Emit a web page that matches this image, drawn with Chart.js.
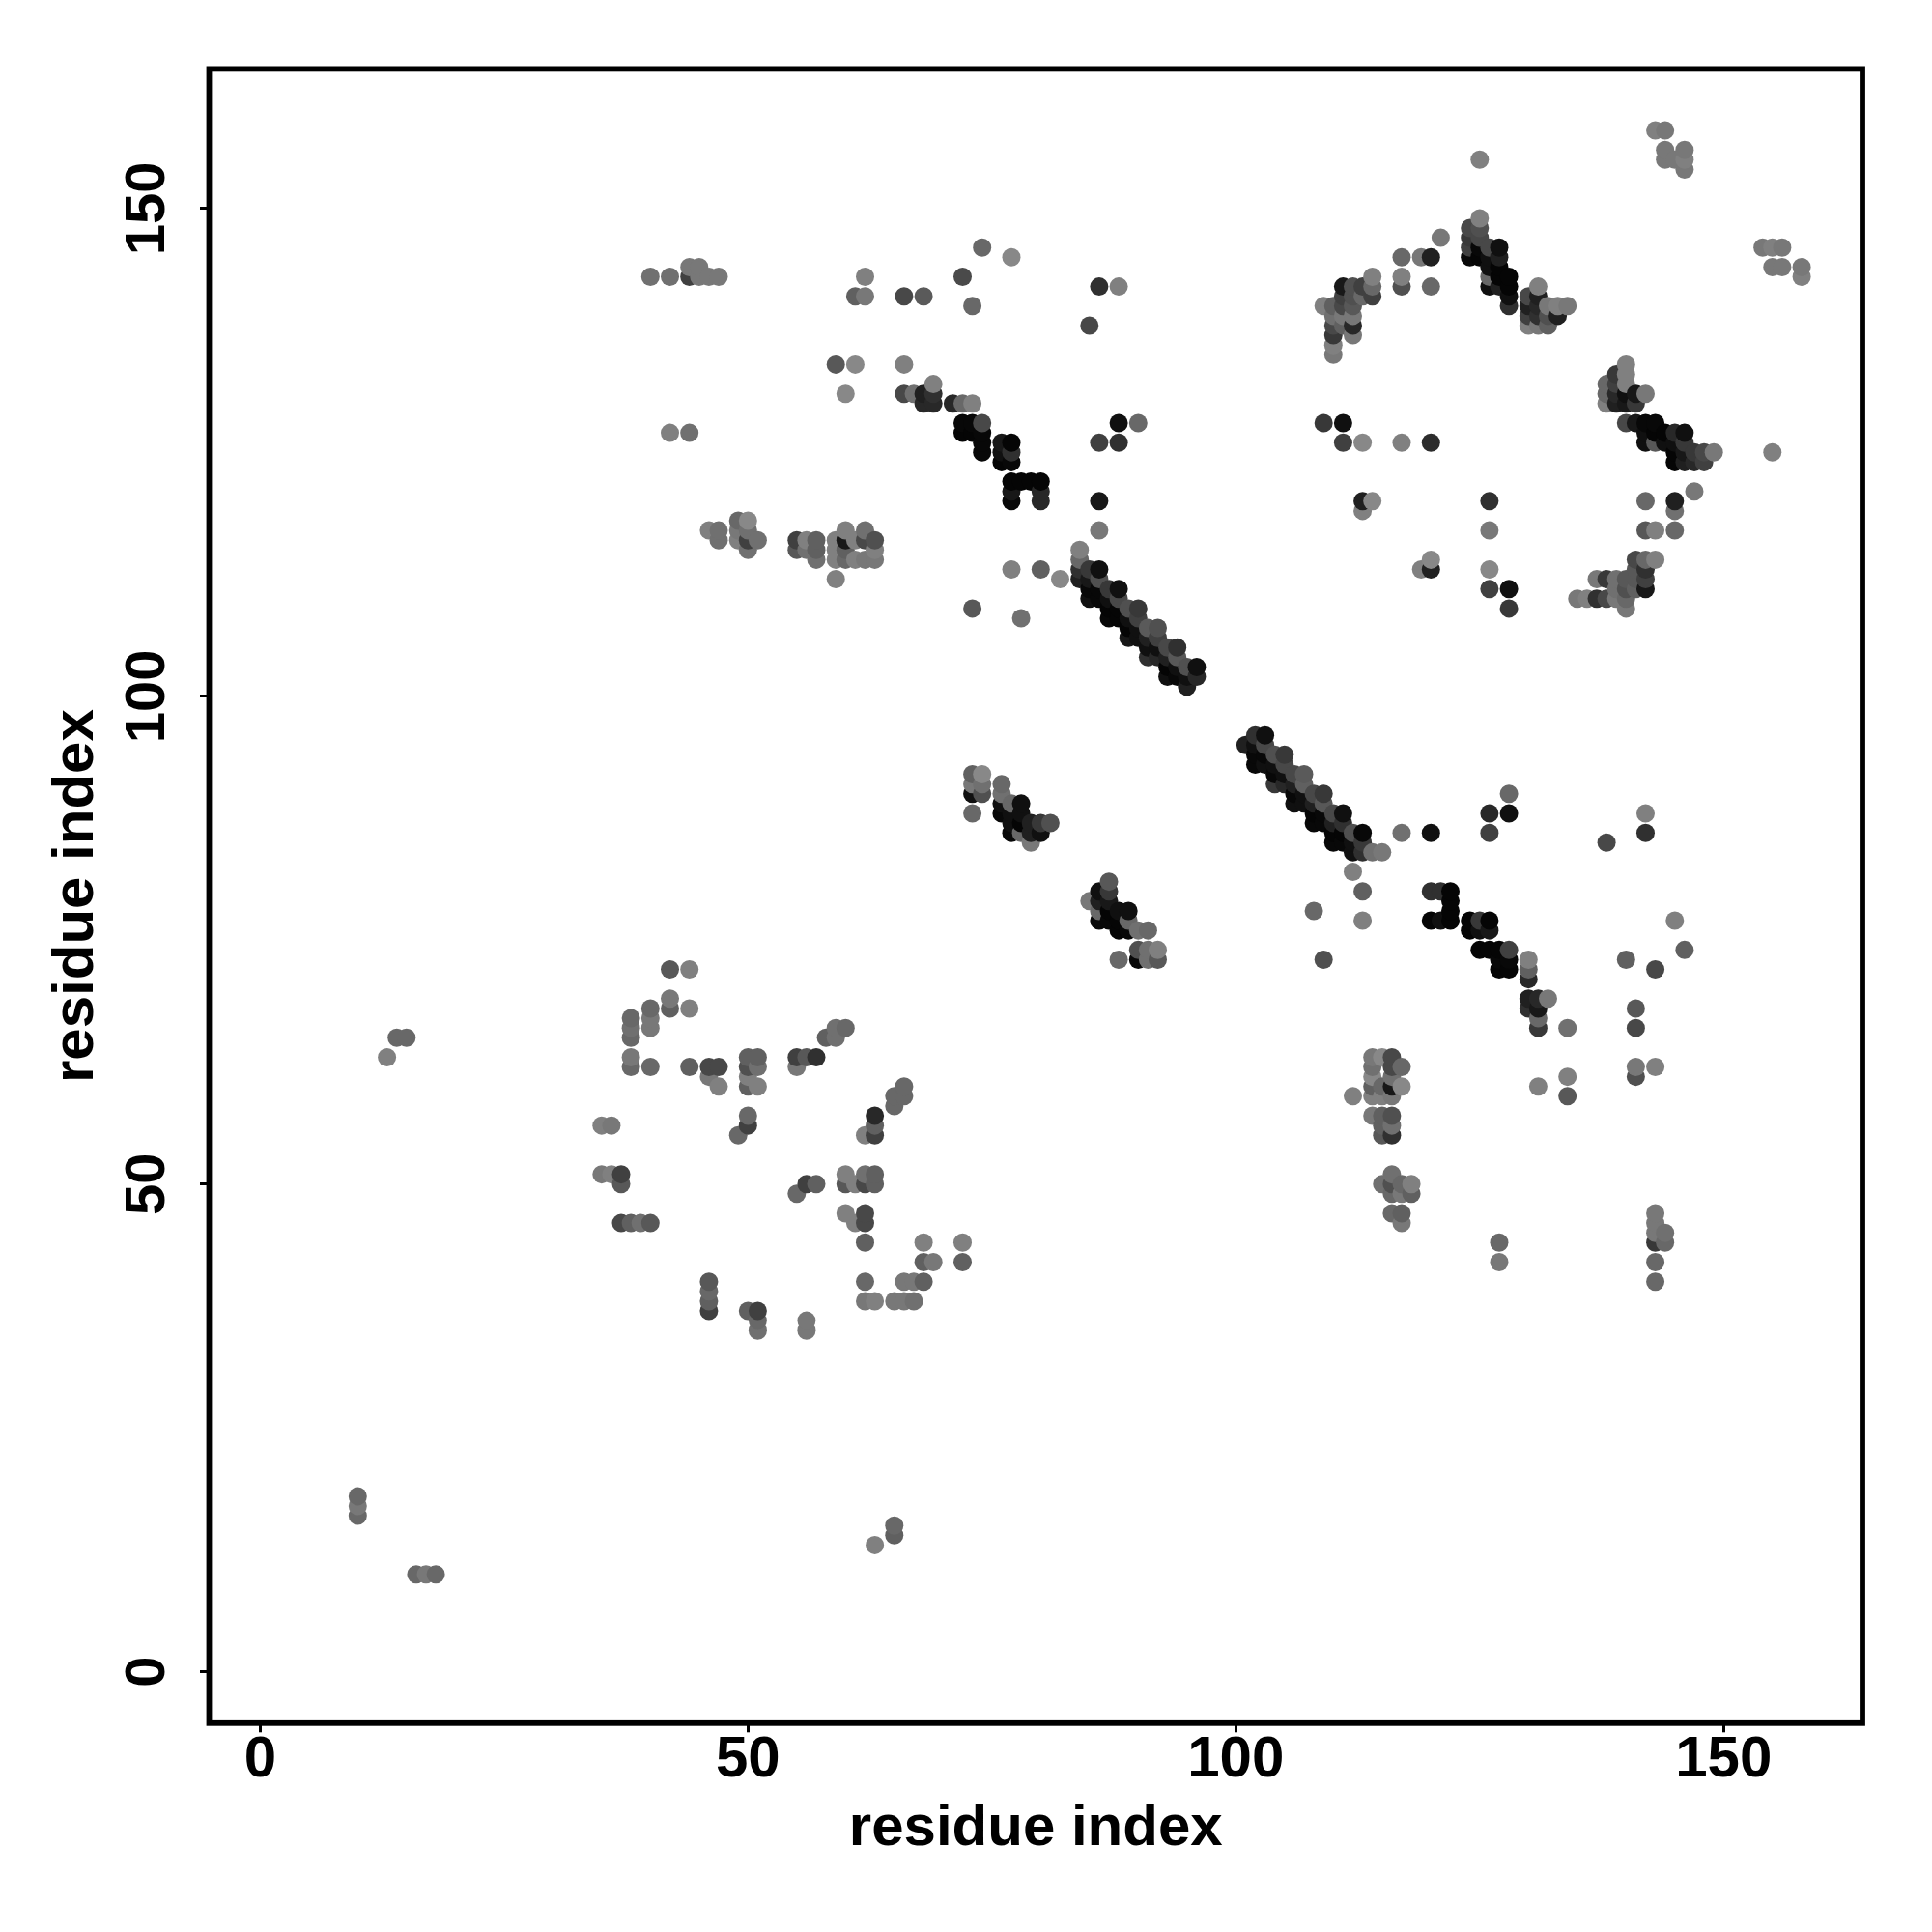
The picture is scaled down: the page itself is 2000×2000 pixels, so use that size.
<!DOCTYPE html>
<html><head><meta charset="utf-8">
<style>html,body{margin:0;padding:0;background:#fff}canvas{display:block}</style>
<script src="https://cdn.jsdelivr.net/npm/chart.js@4/dist/chart.umd.min.js"></script>
</head><body><canvas id="c" width="2000" height="2000"></canvas>
<script>
// Each entry: [residue i, residue j, grey level of the contact]
const tickValues = [0, 50, 100, 150];
const axisTitle = "residue index";
const farLeftLow = [[10,18,104],[10,17,120],[10,16,104],[16,10,104],[17,10,120],[18,10,104],[63,13,128],[65,15,104],[65,14,96]];
const farLeftMid = [[13,63,128],[14,65,104],[15,65,104]];
const upperLeft = [[40,143,112],[42,143,112],[44,143,64],[44,144,120],[45,144,120],[45,143,120],[46,143,120],[47,143,120],[42,127,128],[44,127,112]];
const upperMid = [[62,143,128],[61,141,96],[62,141,120],[66,141,72],[68,141,90],[72,143,74],[74,146,104],[77,145,136],[73,140,104],[85,138,72],[86,142,48],[88,142,128],[59,134,88],[61,134,136],[66,134,128],[60,131,136],[73,109,88],[78,108,112]];
const strandA = [[66,131,72],[67,131,112],[68,131,32],[68,130,40],[69,130,40],[69,131,48],[69,132,128],[71,130,40],[72,130,104],[73,130,128],[72,128,8],[73,128,8],[74,128,72],[72,127,5],[73,127,5],[74,127,8],[74,126,8],[74,125,8],[76,126,24],[77,126,5],[76,125,16],[77,125,48],[76,124,5],[77,124,8],[77,122,5],[78,122,5],[79,122,5],[80,122,5],[77,121,24],[77,120,8],[80,121,40],[80,120,40]];
const blockA = [[46,117,128],[47,117,112],[47,116,112],[49,118,104],[50,118,136],[49,117,120],[50,117,112],[49,116,128],[50,116,64],[51,116,112],[50,115,112]];
const blockB = [[55,116,64],[55,115,88],[56,116,128],[56,115,112],[57,116,96],[57,115,96],[57,114,112],[59,116,128],[59,115,128],[59,114,128],[59,112,128],[60,117,128],[60,116,24],[60,115,96],[60,114,104],[61,116,128],[61,114,128],[62,117,112],[62,116,72],[62,114,120],[63,116,80],[63,115,128],[63,114,120],[77,113,128],[80,113,96],[82,112,136],[86,120,24],[86,117,120],[88,128,16],[90,128,104],[86,126,64],[88,126,48]];
const helixUpper = [[84,115,128],[84,114,104],[84,113,48],[84,112,32],[85,113,56],[85,112,24],[85,111,8],[85,110,16],[86,113,16],[86,112,80],[86,111,8],[86,110,8],[87,111,56],[87,110,16],[87,109,5],[87,108,8],[88,111,16],[88,110,72],[88,109,5],[88,108,5],[89,109,80],[89,108,16],[89,107,5],[89,106,24],[90,109,56],[90,108,64],[90,107,16],[90,106,16],[91,107,90],[91,106,32],[91,105,16],[91,104,48],[92,107,80],[92,106,64],[92,105,16],[92,104,40],[93,105,72],[93,104,32],[93,103,5],[93,102,16],[94,105,48],[94,104,88],[94,103,16],[94,102,8],[95,103,80],[95,102,16],[95,101,32],[96,103,16],[96,102,40]];
const helixLower = [[101,95,32],[102,96,48],[102,95,16],[102,94,8],[102,93,8],[103,96,16],[103,95,72],[103,94,8],[103,93,16],[104,94,80],[104,93,16],[104,92,8],[104,91,56],[105,94,56],[105,93,72],[105,92,16],[105,91,40],[106,92,72],[106,91,32],[106,90,8],[106,89,16],[107,92,90],[107,91,96],[107,90,16],[107,89,16],[108,90,72],[108,89,32],[108,88,5],[108,87,8],[109,90,56],[109,89,88],[109,88,8],[109,87,8],[110,88,72],[110,87,32],[110,86,5],[110,85,8],[111,88,16],[111,87,48],[111,86,5],[111,85,8],[112,86,80],[112,85,16],[112,84,16],[113,86,8],[113,85,56],[113,84,48],[114,84,112],[115,84,120]];
const scatterRight = [[128,90,104],[126,88,40],[128,88,16],[126,86,64],[117,86,112],[120,86,16],[142,88,128],[142,86,48],[138,85,72],[112,82,128],[113,80,96],[113,77,128],[108,78,104],[109,73,80],[134,66,112],[140,73,96],[143,72,72],[145,77,128],[146,74,96],[141,68,88],[141,66,72],[141,62,120],[143,62,128],[141,61,80],[134,61,128],[134,59,88],[131,60,128]];
const strandB = [[120,80,48],[121,80,48],[122,80,5],[122,79,5],[122,78,5],[122,77,5],[120,77,5],[121,77,16],[124,77,5],[125,77,56],[126,77,5],[124,76,5],[125,76,16],[126,76,24],[125,74,5],[126,74,5],[127,74,5],[128,74,64],[127,73,8],[128,73,8],[127,72,5],[128,72,5],[130,73,128],[130,72,96],[130,71,40],[130,69,32],[131,69,40],[132,69,120],[130,68,48],[131,68,24],[131,67,104],[131,66,56]];
const columnA = [[114,63,120],[115,63,136],[116,63,72],[114,62,112],[116,62,72],[117,62,104],[114,61,136],[116,61,112],[114,60,96],[115,60,104],[116,60,24],[117,60,136],[114,59,128],[115,59,128],[116,59,120],[112,59,128],[114,57,120],[115,57,96],[116,57,80],[115,56,96],[116,56,112],[115,55,88],[116,55,48]];
const columnB = [[116,51,112],[115,50,112],[116,50,80],[117,50,104],[118,50,128],[116,49,104],[117,49,120],[118,49,96],[116,47,104],[117,47,96],[117,46,120],[127,44,104],[127,42,120],[143,47,120],[143,46,120],[143,45,120],[144,45,112],[143,44,56],[144,44,104],[143,42,104],[143,40,104]];
const ringUpper = [[42,72,88],[44,72,128],[42,69,120],[42,68,96],[44,68,128],[40,68,104],[40,67,120],[40,66,120],[38,67,104],[38,66,112],[38,65,104],[38,63,120],[38,62,104],[40,62,104],[44,62,96],[46,62,72],[47,62,72],[46,61,120],[47,60,128],[50,63,96],[51,63,96],[50,62,80],[51,62,112],[50,61,128],[50,60,96],[51,60,128],[55,63,64],[56,63,88],[57,63,48],[55,62,120],[58,65,96],[59,65,112],[59,66,112],[60,66,104],[66,60,104],[65,59,104],[66,59,104],[65,58,104],[50,57,104],[50,56,64],[49,55,104],[63,57,40],[63,56,96],[63,55,64],[62,55,128],[35,56,128],[36,56,120]];
const ringLower = [[35,51,120],[36,51,128],[37,51,64],[37,50,88],[37,46,72],[38,46,96],[39,46,112],[40,46,88],[60,51,128],[60,50,88],[61,50,128],[62,51,112],[62,50,72],[63,51,96],[63,50,96],[56,50,64],[57,50,96],[55,49,104],[60,47,128],[61,46,128],[62,47,72],[62,46,72],[62,44,96],[68,44,128],[72,44,128],[68,42,96],[69,42,120],[72,42,96],[62,40,104],[66,40,120],[67,40,120],[68,40,96],[62,38,120],[63,38,128],[65,38,120],[66,38,120],[67,38,112],[46,40,88],[46,39,104],[46,38,96],[46,37,64],[50,37,96],[51,37,64],[51,36,104],[51,35,112],[56,36,120],[56,35,120]];
const topRightA = [[125,155,128],[143,158,128],[144,158,120],[144,156,120],[144,155,120],[145,155,120],[146,156,120],[146,155,128],[146,154,120],[154,146,120],[155,146,128],[156,146,120],[155,144,120],[156,144,120],[158,144,120],[158,143,128],[155,125,128]];
const strandC = [[125,149,128],[124,148,72],[125,148,80],[124,147,56],[125,147,72],[124,146,64],[125,146,8],[126,146,72],[127,146,16],[124,145,8],[125,145,5],[126,145,16],[127,145,32],[126,144,16],[127,144,5],[128,143,5],[126,143,104],[127,143,5],[128,142,5],[126,142,16],[127,142,32],[128,141,16],[128,140,48]];
const strandD = [[131,142,128],[130,141,72],[131,141,32],[130,140,32],[131,140,40],[132,140,120],[133,140,128],[134,140,120],[130,139,64],[131,139,48],[132,139,80],[133,139,32],[130,138,128],[131,138,120],[132,138,96],[121,147,120],[117,145,104],[119,145,120],[120,145,32],[117,143,128],[117,142,80],[120,142,104]];
const clusterLeft = [[114,143,128],[114,142,104],[114,141,64],[111,142,24],[112,142,80],[113,142,64],[111,141,64],[112,141,80],[113,141,104],[109,140,128],[110,140,96],[111,140,72],[112,140,88],[110,139,112],[111,139,120],[112,139,120],[110,138,72],[111,138,96],[112,138,40],[110,137,56],[112,137,120],[110,136,128],[110,135,120]];
const clusterRight = [[140,134,128],[140,133,128],[139,133,56],[140,132,128],[138,132,104],[139,132,64],[138,131,104],[139,131,40],[140,131,16],[141,131,24],[142,131,120],[138,130,128],[139,130,32],[140,130,24],[141,130,56],[140,128,72],[141,128,24],[142,128,8],[143,128,8],[142,127,16],[143,127,5],[144,127,5],[145,127,40],[146,127,16],[142,126,16],[143,126,88],[144,126,16],[145,126,16],[146,126,56],[145,125,5],[146,125,24],[147,125,56],[148,125,72],[149,125,120],[145,124,5],[146,124,32],[147,124,40],[148,124,64]];
const midRight = [[109,128,56],[111,128,16],[111,126,64],[113,126,136],[117,126,128],[120,126,44],[113,120,32],[114,120,136],[113,119,128],[120,113,32],[119,113,128],[120,114,136],[126,120,48],[126,117,120],[126,113,136],[126,111,64],[128,111,16],[128,109,56],[142,120,104],[145,120,32],[145,119,112],[147,121,120],[142,117,88],[143,117,128],[145,117,104]];
const sheetRight = [[141,114,72],[142,114,104],[143,114,128],[141,113,88],[142,113,48],[137,112,120],[138,112,56],[139,112,112],[140,112,88],[141,112,88],[142,112,64],[139,111,112],[140,111,80],[141,111,96],[142,111,24],[135,110,120],[136,110,128],[137,110,48],[138,110,72],[139,110,120],[140,110,104],[140,109,120]];
const strandE = [[73,92,96],[74,92,136],[73,91,120],[74,91,112],[73,90,16],[74,90,80],[73,88,104],[76,91,104],[76,90,112],[77,89,104],[76,89,16],[78,89,16],[76,88,8],[77,88,16],[78,88,16],[77,87,16],[78,87,5],[79,87,32],[80,87,56],[81,87,80],[77,86,8],[78,86,104],[79,86,32],[80,86,16],[79,85,120]];
const strandF = [[87,81,88],[86,80,16],[87,80,56],[85,79,120],[86,79,32],[87,79,24],[86,78,104],[87,78,5],[88,78,16],[89,78,16],[86,77,8],[87,77,8],[88,77,5],[89,77,104],[88,76,5],[89,76,8],[90,76,112],[91,76,104],[90,74,80],[91,74,112],[92,74,128],[88,73,104],[90,73,8],[91,73,112],[92,73,88]];

const contacts = [farLeftLow,farLeftMid,upperLeft,upperMid,strandA,blockA,blockB,helixUpper,helixLower,scatterRight,strandB,columnA,columnB,ringUpper,ringLower,topRightA,strandC,strandD,clusterLeft,clusterRight,midRight,sheetRight,strandE,strandF]
  .flat().sort((a,b)=>a[0]-b[0]||a[1]-b[1]);

const fontFamily = '"Liberation Sans", Arial, Helvetica, sans-serif';
const frame = {
  id:'frame',
  afterDraw(chart){
    const {ctx,chartArea:a}=chart;
    ctx.save();ctx.strokeStyle='#000';ctx.lineWidth=5.8;ctx.lineJoin='miter';
    ctx.strokeRect(a.left,a.top,a.right-a.left,a.bottom-a.top);ctx.restore();
  }
};
const setTicks = axis => { axis.ticks = tickValues.map(v=>({value:v,label:String(v)})); };
new Chart(document.getElementById('c'),{
  type:'scatter',
  data:{datasets:[{
    data:contacts.map(c=>({x:c[0],y:c[1]})),
    backgroundColor:contacts.map(c=>`rgb(${c[2]},${c[2]},${c[2]})`),
    borderWidth:0,pointRadius:9.5,pointHoverRadius:9.5,showLine:false
  }]},
  plugins:[frame],
  options:{
    responsive:false,animation:false,devicePixelRatio:1,
    layout:{padding:{top:71.4,right:72,left:0,bottom:0}},
    plugins:{legend:{display:false},tooltip:{enabled:false},title:{display:false}},
    scales:{
      x:{type:'linear',min:-5.23,max:164.23,
        afterBuildTicks:setTicks,
        afterFit(s){s.height=216.2;},
        grid:{drawOnChartArea:false,drawTicks:true,tickLength:9.5,tickWidth:3,tickColor:'#000'},
        border:{display:false},
        ticks:{color:'#000',font:{family:fontFamily,weight:'bold',size:60},padding:-6.5,maxRotation:0,minRotation:0,autoSkip:false},
        title:{display:true,text:axisTitle,color:'#000',font:{family:fontFamily,weight:'bold',size:60},padding:{top:0,bottom:71}}
      },
      y:{type:'linear',min:-5.26,max:164.3,
        afterBuildTicks:setTicks,
        afterFit(s){s.width=216.5;},
        grid:{drawOnChartArea:false,drawTicks:true,tickLength:9.5,tickWidth:3,tickColor:'#000'},
        border:{display:false},
        ticks:{color:'#000',font:{family:fontFamily,weight:'bold',size:58},padding:4.7,minRotation:90,maxRotation:90,crossAlign:'center',autoSkip:false},
        title:{display:true,text:axisTitle,color:'#000',font:{family:fontFamily,weight:'bold',size:60},padding:{top:43,bottom:0}}
      }
    }
  }
});
</script></body></html>
